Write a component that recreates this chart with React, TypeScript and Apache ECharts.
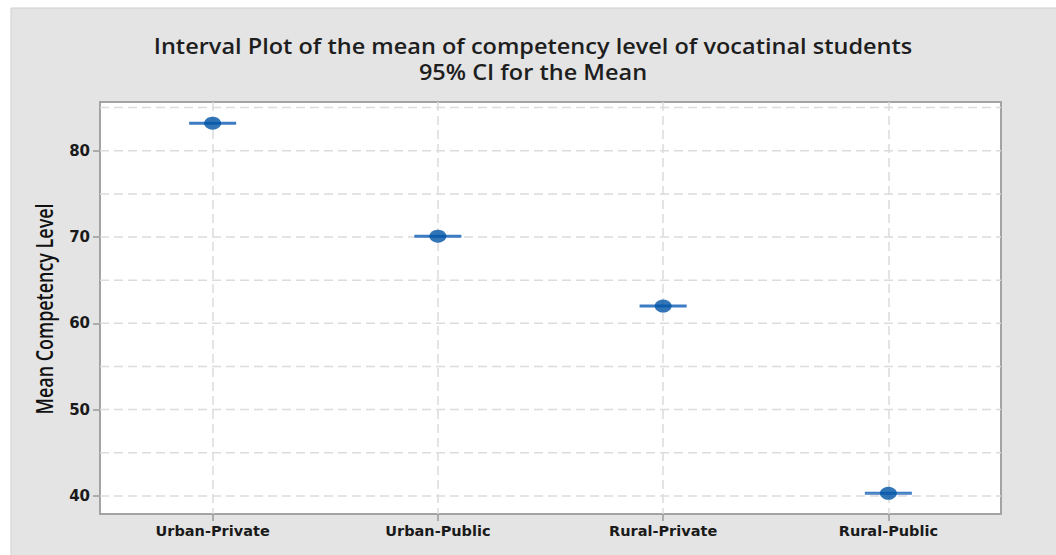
import React, { useEffect, useRef } from "react";
import * as echarts from "echarts";

// Groups along the x axis
const categories = ["Urban-Private", "Urban-Public", "Rural-Private", "Rural-Public"];
// Group means of competency level
const means = [83.2, 70.1, 62.0, 40.3];
// 95% confidence bounds for each mean
const lowerCI = [83.12, 70.02, 61.92, 40.22];
const upperCI = [83.28, 70.18, 62.08, 40.38];
// Labelled ticks and dashed reference lines on the value axis
const yTicks = [40, 50, 60, 70, 80];
const yGrid = [40, 45, 50, 55, 60, 65, 70, 75, 80, 85];

const titleLine1 = "Interval Plot of the mean of competency level of vocatinal students";
const titleLine2 = "95% CI for the Mean";
const yName = "Mean Competency Level";

const FONT = "'Open Sans', 'Noto Sans', sans-serif";
const LABEL_FONT = "'DejaVu Sans', 'Open Sans', sans-serif";
const GRID_LINE = { stroke: "#dcdcdc", lineWidth: 1.5, lineDash: [9, 5] };

export default function App() {
  const ref = useRef<HTMLDivElement>(null);

  useEffect(() => {
    if (!ref.current) return;
    const chart = echarts.init(ref.current, undefined, { renderer: "svg" });

    const ciData = categories.map((_, i) => [i, lowerCI[i], upperCI[i]]);
    const capHalf = 23.5;

    chart.setOption({
      animation: false,
      backgroundColor: "#ffffff",
      graphic: [
        {
          type: "rect",
          z: -10,
          shape: { x: 11, y: 8, width: 1060, height: 560 },
          style: { fill: "#e4e4e4", stroke: "#cfcfcf", lineWidth: 1 },
          silent: true,
        },
        {
          type: "text",
          x: 533,
          y: 46,
          scaleX: 1.12,
          style: {
            text: titleLine1,
            font: `600 21px ${FONT}`,
            fill: "#1e1e1e",
            align: "center",
            verticalAlign: "middle",
          },
        },
        {
          type: "text",
          x: 533,
          y: 72,
          scaleX: 1.12,
          style: {
            text: titleLine2,
            font: `600 21px ${FONT}`,
            fill: "#1e1e1e",
            align: "center",
            verticalAlign: "middle",
          },
        },
        {
          type: "text",
          x: 44,
          y: 309,
          rotation: Math.PI / 2,
          scaleX: 0.78,
          style: {
            text: yName,
            font: `600 23px ${FONT}`,
            fill: "#111111",
            align: "center",
            verticalAlign: "middle",
          },
        },
      ],
      grid: {
        left: 100,
        right: 55,
        top: 102,
        bottom: 41,
        show: true,
        backgroundColor: "#ffffff",
        borderColor: "#a3a3a3",
        borderWidth: 2,
      },
      xAxis: {
        type: "category",
        data: categories,
        boundaryGap: true,
        axisLine: { show: false },
        axisTick: {
          show: true,
          alignWithLabel: true,
          length: 7,
          lineStyle: { color: "#9a9a9a", width: 1.5 },
        },
        axisLabel: {
          margin: 9,
          fontSize: 14.5,
          fontWeight: "bold",
          fontFamily: LABEL_FONT,
          color: "#1a1a1a",
        },
        splitLine: {
          show: true,
          alignWithLabel: true,
          lineStyle: { type: [9, 5], color: "#dcdcdc", width: 1.5 },
        },
      },
      yAxis: {
        type: "value",
        min: 37.9,
        max: 85.65,
        axisLine: { show: false },
        axisTick: {
          show: true,
          length: 7,
          customValues: yTicks,
          lineStyle: { color: "#9a9a9a", width: 1.5 },
        },
        axisLabel: {
          margin: 10,
          customValues: yTicks,
          fontSize: 15,
          fontWeight: "bold",
          fontFamily: LABEL_FONT,
          color: "#1a1a1a",
        },
        splitLine: { show: false },
      },
      series: [
        {
          // dashed horizontal reference lines every 5 units
          type: "custom",
          name: "grid",
          data: yGrid,
          encode: { y: 0 },
          z: 1,
          silent: true,
          renderItem: (params: any, api: any) => {
            const y = api.coord([0, api.value(0)])[1];
            const cs = params.coordSys;
            return {
              type: "line",
              shape: { x1: cs.x, y1: y, x2: cs.x + cs.width, y2: y },
              style: GRID_LINE,
            };
          },
        },
        {
          type: "custom",
          name: "95% CI",
          data: ciData,
          encode: { x: 0, y: [1, 2] },
          z: 3,
          renderItem: (_params: any, api: any) => {
            const lo = api.coord([api.value(0), api.value(1)]);
            const hi = api.coord([api.value(0), api.value(2)]);
            const style = { stroke: "#3d7cc4", lineWidth: 1.6 };
            return {
              type: "group",
              children: [
                { type: "line", shape: { x1: lo[0] - capHalf, y1: lo[1], x2: lo[0] + capHalf, y2: lo[1] }, style },
                { type: "line", shape: { x1: hi[0] - capHalf, y1: hi[1], x2: hi[0] + capHalf, y2: hi[1] }, style },
                { type: "line", shape: { x1: lo[0], y1: lo[1], x2: hi[0], y2: hi[1] }, style },
              ],
            };
          },
        },
        {
          type: "scatter",
          name: "Mean",
          data: means,
          symbol: "circle",
          symbolSize: [17, 13],
          z: 4,
          itemStyle: { color: "#0054a6" },
        },
      ],
    });

    return () => chart.dispose();
  }, []);

  return (
    <div
      ref={ref}
      style={{ position: "fixed", left: 0, top: 0, width: 1056, height: 555 }}
    />
  );
}
